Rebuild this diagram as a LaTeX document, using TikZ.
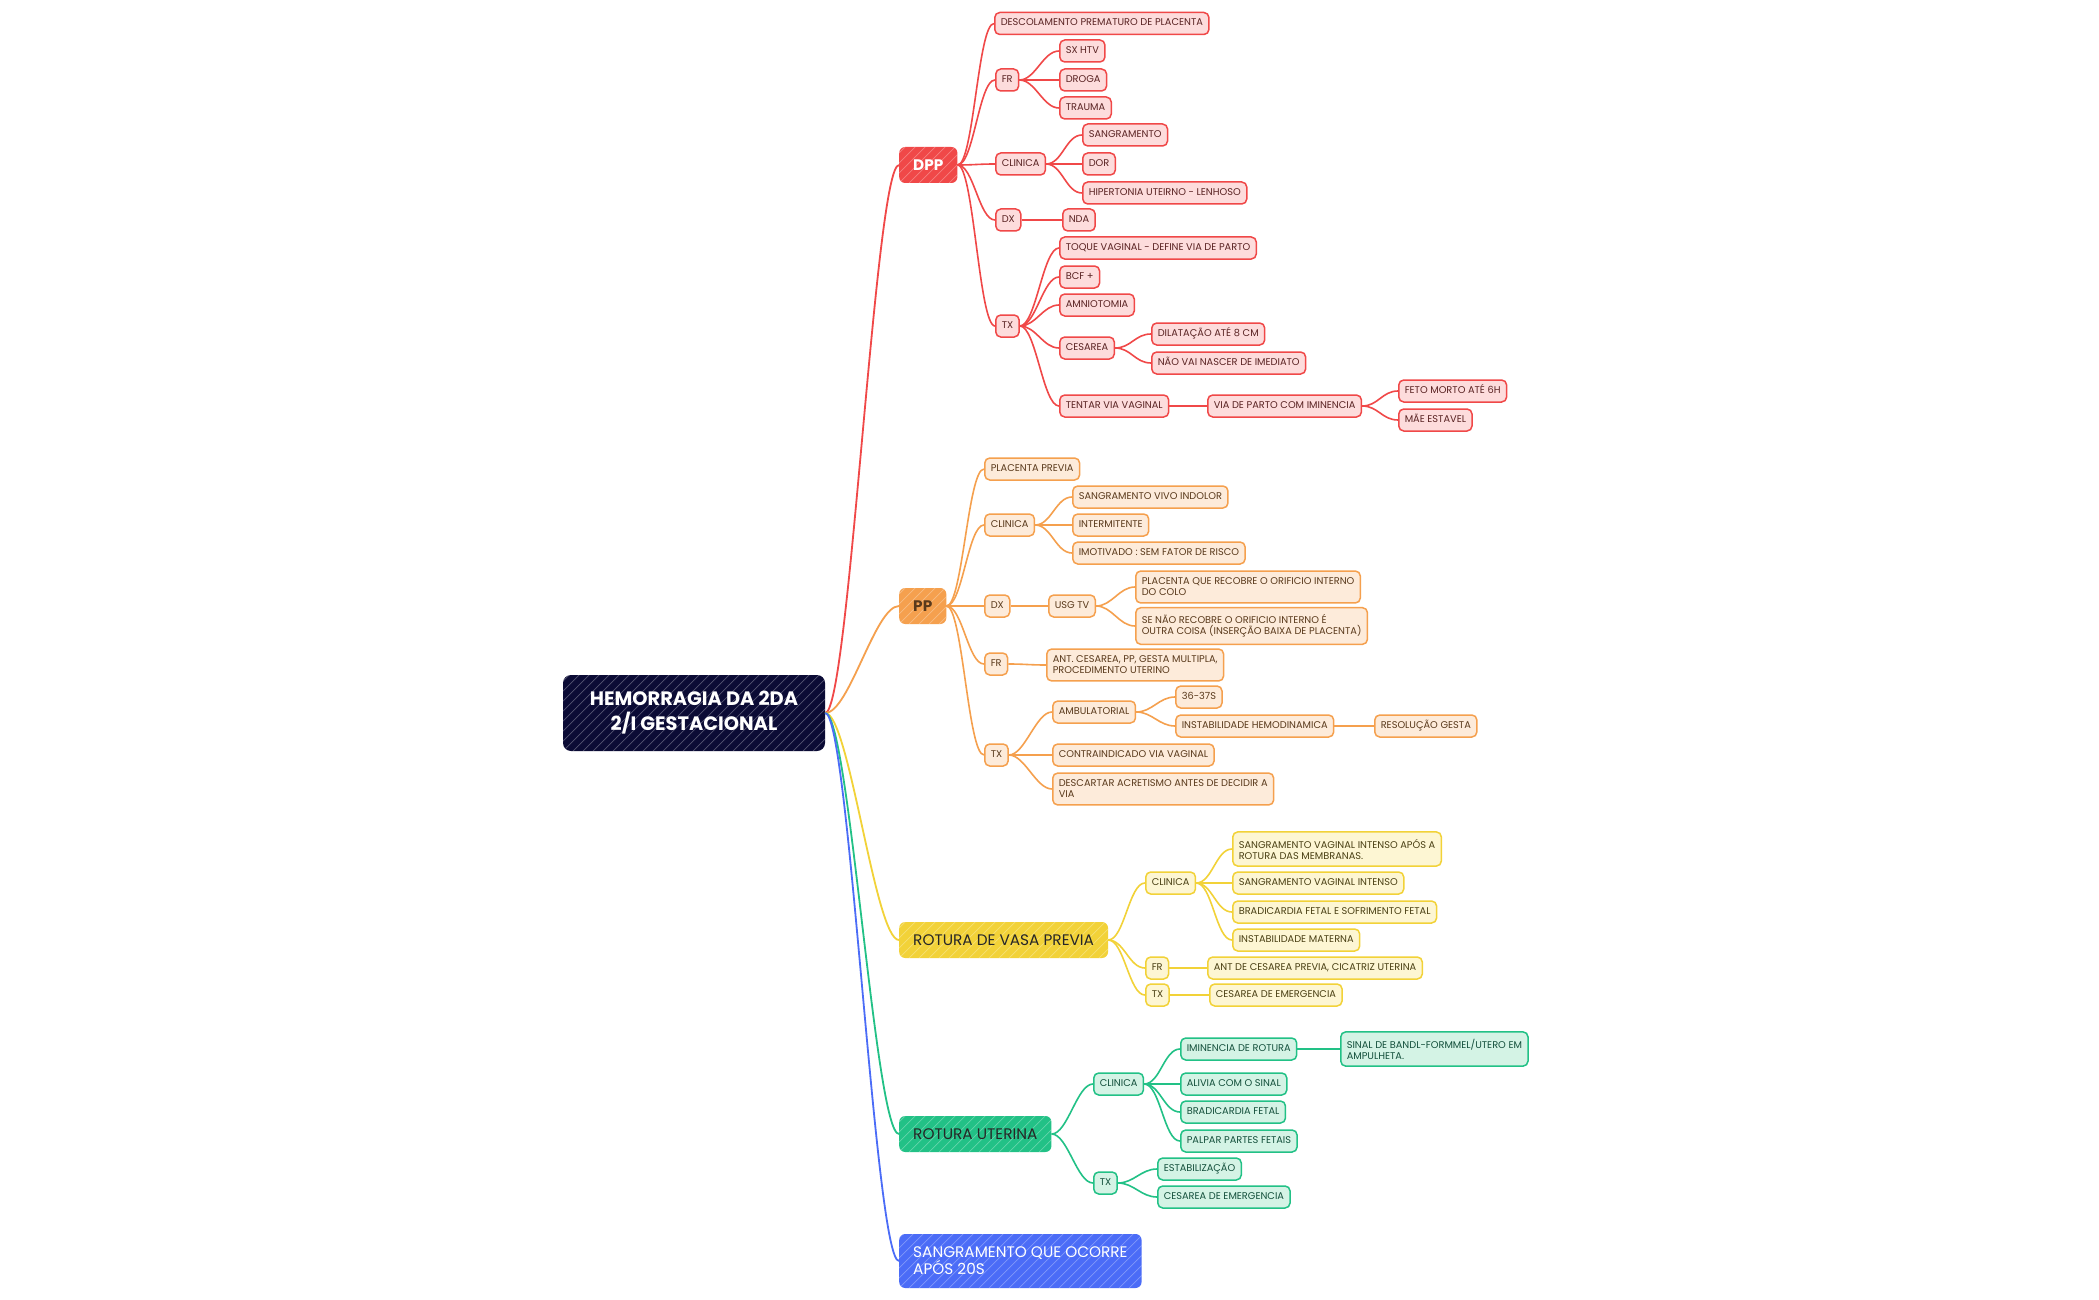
\documentclass[tikz,border=0pt]{standalone}
\usepackage{fontspec}
\setmainfont{Poppins}
\definecolor{rline}{HTML}{F04848}
\definecolor{rfill}{HTML}{FDDCDC}
\definecolor{rtext}{HTML}{5A2323}
\definecolor{oline}{HTML}{F5A04E}
\definecolor{ofill}{HTML}{FDEBDA}
\definecolor{otext}{HTML}{5A3A1C}
\definecolor{yline}{HTML}{F2D238}
\definecolor{yfill}{HTML}{FDF6D3}
\definecolor{ytext}{HTML}{4A4014}
\definecolor{gline}{HTML}{22C186}
\definecolor{gfill}{HTML}{D4F3E5}
\definecolor{gtext}{HTML}{14503C}
\definecolor{bline}{HTML}{4B6CF7}
\definecolor{rootfill}{HTML}{0B0B35}
\begin{document}
\begin{tikzpicture}[x=1pt, y=-1pt,
        every node/.style={font=\fontsize{9.8}{11}\selectfont},
        leaftwo/.style={rectangle, rounded corners=5pt, line width=1.5pt,
            anchor=west, align=left, inner xsep=6pt, inner ysep=7pt,
            minimum height=22pt},
        leaf/.style={leaftwo, text height=7pt, text depth=2pt, inner ysep=6.5pt},
        rbox/.style={leaf, draw=rline, fill=rfill, text=rtext},
        obox/.style={leaf, draw=oline, fill=ofill, text=otext},
        ybox/.style={leaf, draw=yline, fill=yfill, text=ytext},
        gbox/.style={leaf, draw=gline, fill=gfill, text=gtext},
        otwo/.style={leaftwo, draw=oline, fill=ofill, text=otext},
        ytwo/.style={leaftwo, draw=yline, fill=yfill, text=ytext},
        gtwo/.style={leaftwo, draw=gline, fill=gfill, text=gtext},
        hatch/.style={path picture={
            \foreach \k in {-90,-80,...,270}
              \draw[white, opacity=0.3, line width=0.7pt]
                ([xshift=\k pt]path picture bounding box.south west) -- ++(90,-90);
          }},
        mainbox/.style={rectangle, rounded corners=6pt, anchor=west, align=left,
            inner xsep=14pt, minimum height=36pt, hatch,
            font=\fontsize{15.3}{17}\selectfont},
        rootbox/.style={rectangle, rounded corners=8pt, fill=rootfill, text=white,
            align=center, minimum width=262pt, minimum height=76pt, hatch,
            font=\bfseries\fontsize{19.4}{25}\selectfont},
        link/.style={line width=1.6pt, out=0, in=180, distance=16pt},
        rlink/.style={link, draw=rline},
        olink/.style={link, draw=oline},
        ylink/.style={link, draw=yline},
        glink/.style={link, draw=gline},
        rootlink/.style={line width=1.8pt, out=0, in=180, distance=24pt}
      ]
      \fill[white] (0,0) rectangle (2099,1300);
      \useasboundingbox (0,0) rectangle (2099,1300);
      % root
      \node[rootbox] (root) at (694,713) {HEMORRAGIA DA 2DA\\2/I GESTACIONAL};
      % main branches
      \node[mainbox, fill=rline, text=white] (dpp) at (899,165) {\bfseries DPP};
      \node[mainbox, fill=oline, text=otext] (pp) at (899,606) {\bfseries PP};
      \node[mainbox, fill=yline, text=black!85] (vasa) at (899,940) {ROTURA DE VASA PREVIA};
      \node[mainbox, fill=gline, text=black!85] (rotut) at (899,1134) {ROTURA UTERINA};
      \node[mainbox, fill=bline, text=white, minimum height=54pt] (sang) at (899,1261)
      {SANGRAMENTO QUE OCORRE\\APÓS 20S};
      \foreach \m/\col in {dpp/rline, pp/oline, vasa/yline, rotut/gline, sang/bline}
        \draw[rootlink, draw=\col] (root.east) to (\m.west);
      % DPP
      \node[rbox] (descol) at (994,23.5) {DESCOLAMENTO PREMATURO DE PLACENTA};
      \node[rbox] (dppfr) at (995,80) {FR};
      \node[rbox] (sxhtv) at (1059,51) {SX HTV};
      \node[rbox] (droga) at (1059,80) {DROGA};
      \node[rbox] (trauma) at (1059,108) {TRAUMA};
      \node[rbox] (dppcli) at (995,164) {CLINICA};
      \node[rbox] (sangra) at (1082,135) {SANGRAMENTO};
      \node[rbox] (dor) at (1082,164) {DOR};
      \node[rbox] (hiperton) at (1082,193) {HIPERTONIA UTEIRNO - LENHOSO};
      \node[rbox] (dppdx) at (995,220) {DX};
      \node[rbox] (nda) at (1062,220) {NDA};
      \node[rbox] (dpptx) at (995,326) {TX};
      \node[rbox] (toque) at (1059,248) {TOQUE VAGINAL - DEFINE VIA DE PARTO};
      \node[rbox] (bcf) at (1059,277) {BCF +};
      \node[rbox] (amnio) at (1059,305) {AMNIOTOMIA};
      \node[rbox] (cesarea) at (1059,348) {CESAREA};
      \node[rbox] (dilat) at (1151,334) {DILATAÇÃO ATÉ 8 CM};
      \node[rbox] (naovai) at (1151,363) {NÃO VAI NASCER DE IMEDIATO};
      \node[rbox] (tentar) at (1059,406) {TENTAR VIA VAGINAL};
      \node[rbox] (viaparto) at (1207,406) {VIA DE PARTO COM IMINENCIA};
      \node[rbox] (fetomorto) at (1398,391) {FETO MORTO ATÉ 6H};
      \node[rbox] (maeest) at (1398,420) {MÃE ESTAVEL};
      \foreach \c in {descol, dppfr, dppcli, dppdx, dpptx}
        \draw[rlink] (dpp.east) to (\c.west);
      \foreach \c in {sxhtv, droga, trauma}
        \draw[rlink] (dppfr.east) to (\c.west);
      \foreach \c in {sangra, dor, hiperton}
        \draw[rlink] (dppcli.east) to (\c.west);
      \draw[rlink] (dppdx.east) to (nda.west);
      \foreach \c in {toque, bcf, amnio, cesarea, tentar}
        \draw[rlink] (dpptx.east) to (\c.west);
      \foreach \c in {dilat, naovai}
        \draw[rlink] (cesarea.east) to (\c.west);
      \draw[rlink] (tentar.east) to (viaparto.west);
      \foreach \c in {fetomorto, maeest}
        \draw[rlink] (viaparto.east) to (\c.west);
      % PP
      \node[obox] (placprev) at (984,469) {PLACENTA PREVIA};
      \node[obox] (ppcli) at (984,525) {CLINICA};
      \node[obox] (vivo) at (1072,497) {SANGRAMENTO VIVO INDOLOR};
      \node[obox] (intermit) at (1072,525) {INTERMITENTE};
      \node[obox] (imotiv) at (1072,553) {IMOTIVADO : SEM FATOR DE RISCO};
      \node[obox] (ppdx) at (984,606) {DX};
      \node[obox] (usgtv) at (1048,606) {USG TV};
      \node[otwo] (recobre) at (1135,587)
      {PLACENTA QUE RECOBRE O ORIFICIO INTERNO\\DO COLO};
      \node[otwo] (naorecobre) at (1135,626)
      {SE NÃO RECOBRE O ORIFICIO INTERNO É\\OUTRA COISA (INSERÇÃO BAIXA DE PLACENTA)};
      \node[obox] (ppfr) at (984,664) {FR};
      \node[otwo] (antces) at (1046,665)
      {ANT. CESAREA, PP, GESTA MULTIPLA,\\PROCEDIMENTO UTERINO};
      \node[obox] (pptx) at (984,755) {TX};
      \node[obox] (ambul) at (1052,712) {AMBULATORIAL};
      \node[obox] (semanas) at (1175,697) {36-37S};
      \node[obox] (instab) at (1175,726) {INSTABILIDADE HEMODINAMICA};
      \node[obox] (resol) at (1374,726) {RESOLUÇÃO GESTA};
      \node[obox] (contra) at (1052,755) {CONTRAINDICADO VIA VAGINAL};
      \node[otwo] (descart) at (1052,789)
      {DESCARTAR ACRETISMO ANTES DE DECIDIR A\\VIA};
      \foreach \c in {placprev, ppcli, ppdx, ppfr, pptx}
        \draw[olink] (pp.east) to (\c.west);
      \foreach \c in {vivo, intermit, imotiv}
        \draw[olink] (ppcli.east) to (\c.west);
      \draw[olink] (ppdx.east) to (usgtv.west);
      \foreach \c in {recobre, naorecobre}
        \draw[olink] (usgtv.east) to (\c.west);
      \draw[olink] (ppfr.east) to (antces.west);
      \foreach \c in {ambul, contra, descart}
        \draw[olink] (pptx.east) to (\c.west);
      \foreach \c in {semanas, instab}
        \draw[olink] (ambul.east) to (\c.west);
      \draw[olink] (instab.east) to (resol.west);
      % ROTURA DE VASA PREVIA
      \node[ybox] (vasacli) at (1145,883) {CLINICA};
      \node[ytwo] (aposrot) at (1232,849)
      {SANGRAMENTO VAGINAL INTENSO APÓS A\\ROTURA DAS MEMBRANAS.};
      \node[ybox] (vagint) at (1232,883) {SANGRAMENTO VAGINAL INTENSO};
      \node[ybox] (bradsof) at (1232,912) {BRADICARDIA FETAL E SOFRIMENTO FETAL};
      \node[ybox] (instmat) at (1232,940) {INSTABILIDADE MATERNA};
      \node[ybox] (vasafr) at (1145,968) {FR};
      \node[ybox] (cicatriz) at (1207,968) {ANT DE CESAREA PREVIA, CICATRIZ UTERINA};
      \node[ybox] (vasatx) at (1145,995) {TX};
      \node[ybox] (vasaces) at (1209,995) {CESAREA DE EMERGENCIA};
      \foreach \c in {vasacli, vasafr, vasatx}
        \draw[ylink] (vasa.east) to (\c.west);
      \foreach \c in {aposrot, vagint, bradsof, instmat}
        \draw[ylink] (vasacli.east) to (\c.west);
      \draw[ylink] (vasafr.east) to (cicatriz.west);
      \draw[ylink] (vasatx.east) to (vasaces.west);
      % ROTURA UTERINA
      \node[gbox] (utcli) at (1093,1084) {CLINICA};
      \node[gbox] (iminen) at (1180,1049) {IMINENCIA DE ROTURA};
      \node[gtwo] (bandl) at (1340,1049)
      {SINAL DE BANDL-FORMMEL/UTERO EM\\AMPULHETA.};
      \node[gbox] (alivia) at (1180,1084) {ALIVIA COM O SINAL};
      \node[gbox] (bradfet) at (1180,1112) {BRADICARDIA FETAL};
      \node[gbox] (palpar) at (1180,1141) {PALPAR PARTES FETAIS};
      \node[gbox] (uttx) at (1093,1183) {TX};
      \node[gbox] (estab) at (1157,1169) {ESTABILIZAÇÃO};
      \node[gbox] (utces) at (1157,1197) {CESAREA DE EMERGENCIA};
      \foreach \c in {utcli, uttx}
        \draw[glink] (rotut.east) to (\c.west);
      \foreach \c in {iminen, alivia, bradfet, palpar}
        \draw[glink] (utcli.east) to (\c.west);
      \draw[glink] (iminen.east) to (bandl.west);
      \foreach \c in {estab, utces}
        \draw[glink] (uttx.east) to (\c.west);
    \end{tikzpicture}
\end{document}
